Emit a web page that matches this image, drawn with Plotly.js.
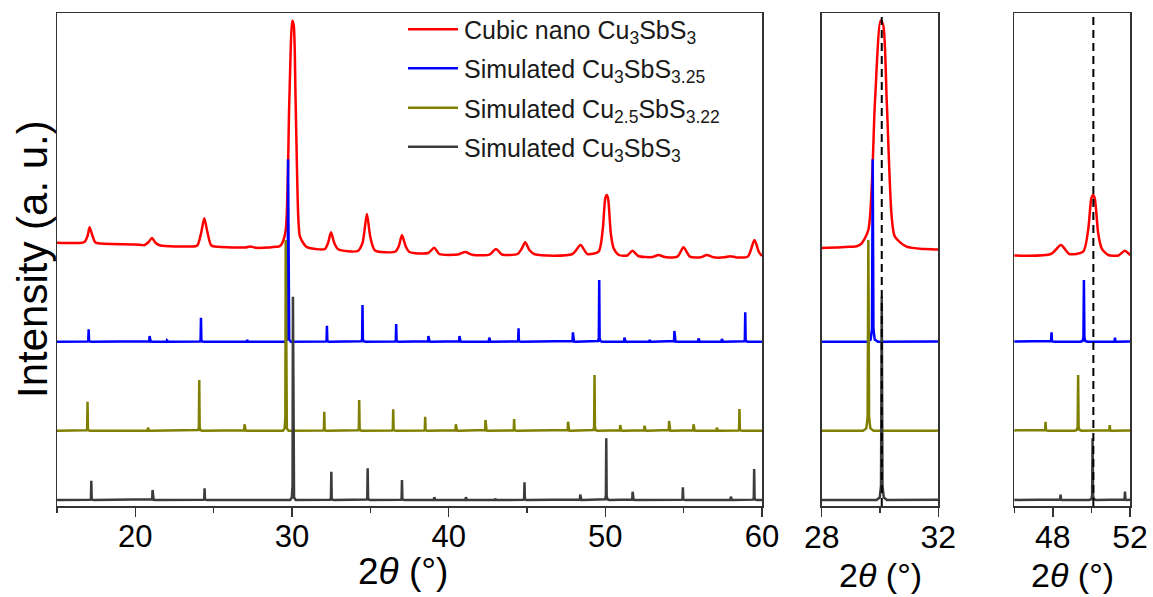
<!DOCTYPE html>
<html>
<head>
<meta charset="utf-8">
<script src="https://cdn.plot.ly/plotly-3.0.1.min.js"></script>
<style>
  html, body { margin: 0; padding: 0; background: #fff; }
  #chart { width: 1153px; height: 597px; }
</style>
</head>
<body>
<div id="chart"></div>
<script>
// XRD patterns, intensity in arbitrary units (stacked)

// Measured pattern: cubic nano Cu3SbS3 (2θ in degrees, intensity)
const redTheta = [15.0, 16.4, 16.75, 16.95, 17.08, 17.25, 17.45, 17.8, 20.0, 20.6, 20.85, 21.06, 21.3, 21.6,
  23.5, 23.95, 24.2, 24.4, 24.6, 24.85, 25.3, 27.0, 27.34, 27.7, 28.5, 29.0, 29.2, 29.37, 29.6, 29.83,
  30.02, 30.11, 30.23, 30.40, 30.51, 30.91, 31.5, 32.1, 32.3, 32.49, 32.7, 32.95, 34.2, 34.5, 34.78,
  35.0, 35.3, 36.6, 36.82, 37.02, 37.25, 37.5, 38.7, 39.08, 39.4, 40.6, 41.06, 41.5, 42.6, 43.02, 43.4,
  44.4, 44.65, 44.89, 45.15, 45.5, 47.9, 48.42, 48.85, 49.57, 49.83, 50.0, 50.09, 50.18, 50.35, 50.53,
  50.87, 51.4, 51.73, 52.1, 53.0, 53.39, 53.8, 54.6, 54.99, 55.4, 56.1, 56.48, 56.9, 57.6, 57.97, 58.4,
  59.1, 59.52, 59.8, 60.0];
const redIntensity = [263.3, 263, 264, 270, 278.7, 271, 263.5, 262.5, 261.5, 261, 264, 268, 263, 260.5,
  259.5, 260.5, 273, 287.7, 274, 260.5, 259.2, 258.5, 259.5, 258.2, 258.5, 259.3, 259.7, 262.7, 276, 406,
  485.3, 481, 406, 289.3, 269.3, 259.3, 257, 257, 263, 273.7, 263, 256.7, 255, 263, 292,
  269, 255.5, 254.5, 260, 271, 260, 254, 253, 258.3, 252, 251.5, 254, 251.3, 251.3, 257, 251.5,
  252, 257, 263.7, 256, 251.7, 252, 261, 252, 254.3, 276, 308, 311, 307, 272.7, 257.7,
  251, 250.5, 255.3, 250, 249, 251, 249, 249.3, 258.7, 249.3, 248.7, 251, 248.7, 248.7, 249.8, 248.5,
  249.5, 266, 254, 250];

// Simulated Cu3SbS3.25: peak positions and heights above its baseline
const bluePeaks = [17.02, 20.91, 22.02, 24.19, 27.13, 29.75, 32.23, 34.50, 36.65, 38.71, 40.69, 42.59,
  44.46, 47.93, 49.61, 51.22, 52.82, 54.41, 55.95, 57.44, 58.93];
const blueHeights = [12.4, 5.7, 1.2, 24, 1.7, 182.4, 16, 36.7, 17.7, 5.7, 5.7, 4,
  13.4, 9.4, 61.7, 4, 1.7, 10.7, 3.4, 2.7, 29.4];

// Simulated Cu2.5SbS3.22
const olivePeaks = [16.95, 20.81, 24.08, 26.97, 29.60, 32.06, 34.29, 36.46, 38.50, 40.46, 42.35, 44.18,
  47.62, 49.31, 50.95, 52.50, 54.07, 55.63, 57.12, 58.56];
const oliveHeights = [29, 3, 50.7, 6.4, 190.7, 19, 30.7, 21.4, 14, 6.4, 10.7, 11.7,
  9, 55.7, 5.7, 5, 9.7, 6.4, 3, 21.7];

// Simulated Cu3SbS3
const blackPeaks = [17.19, 21.10, 24.42, 30.06, 32.51, 34.83, 37.02, 39.08, 41.10, 42.97, 44.84,
  48.40, 50.06, 51.74, 54.95, 58.01, 59.50];
const blackHeights = [19.3, 10, 11.7, 203.3, 28.3, 31.7, 20, 2.7, 2.7, 1.3, 17.7,
  5.5, 61.7, 8.3, 12.7, 3.3, 31];

// Stacking offsets of the simulated patterns
const blueOffset = 164.3;
const oliveOffset = 75.3;
const blackOffset = 6;

// Reference peak positions marked in the zoomed panels
const refLines = [30.06, 50.1];

const seriesNames = [
  'Cubic nano Cu<sub>3</sub>SbS<sub>3</sub>',
  'Simulated Cu<sub>3</sub>SbS<sub>3.25</sub>',
  'Simulated Cu<sub>2.5</sub>SbS<sub>3.22</sub>',
  'Simulated Cu<sub>3</sub>SbS<sub>3</sub>'
];
const colors = ['#ff0000', '#0000ff', '#808000', '#3c3c3c'];

// Narrow reflection profile for a peak list sitting on a flat baseline
function stickPattern(pos, h, base) {
  const x = [15], y = [base];
  for (let i = 0; i < pos.length; i++) {
    x.push(pos[i] - 0.18, pos[i] - 0.07, pos[i] - 0.025, pos[i],
           pos[i] + 0.025, pos[i] + 0.07, pos[i] + 0.18);
    y.push(base, base + 0.012 * h[i], base + 0.07 * h[i], base + h[i],
           base + 0.07 * h[i], base + 0.012 * h[i], base);
  }
  x.push(60); y.push(base);
  return { x, y };
}

const patterns = [
  { x: redTheta, y: redIntensity, spline: true },
  Object.assign(stickPattern(bluePeaks, blueHeights, blueOffset), { spline: false }),
  Object.assign(stickPattern(olivePeaks, oliveHeights, oliveOffset), { spline: false }),
  Object.assign(stickPattern(blackPeaks, blackHeights, blackOffset), { spline: false })
];

const axesPairs = [['x', 'y'], ['x2', 'y2'], ['x3', 'y3']];
const traces = [];
axesPairs.forEach(([xa, ya]) => {
  patterns.forEach((p, i) => {
    traces.push({
      type: 'scatter', mode: 'lines',
      x: p.x, y: p.y, xaxis: xa, yaxis: ya,
      name: seriesNames[i], showlegend: false,
      line: { color: colors[i], width: 2.5, shape: p.spline ? 'spline' : 'linear', smoothing: 0.7 },
      hoverinfo: 'skip'
    });
  });
});

const FONT = 'Liberation Sans, Arial, sans-serif';
const lineCol = '#333333';

// plot area: x 57..1130 px, y 13..506 px
const L = 57, W = 1073, T = 13, H = 493;
const px = v => (v - L) / W;
const py = v => (T + H - v) / H;

function frameX(anchor, domain, range, dtick, minorDtick, tickSize, standoff) {
  return {
    anchor, domain, range,
    showline: true, mirror: true, linecolor: lineCol, linewidth: 1.5,
    ticks: 'outside', ticklen: 9, tickwidth: 1.5, tickcolor: lineCol,
    tick0: 0, dtick, ticklabelstandoff: standoff,
    minor: { dtick: minorDtick, tick0: 0, ticks: 'outside', ticklen: 5, tickwidth: 1.5, tickcolor: lineCol },
    tickfont: { family: FONT, size: tickSize, color: '#000' },
    showgrid: false, zeroline: false, fixedrange: true
  };
}
function frameY(anchor) {
  return {
    anchor, range: [0, 493], domain: [0, 1],
    showline: true, mirror: true, linecolor: lineCol, linewidth: 1.5,
    ticks: '', showticklabels: false, showgrid: false, zeroline: false, fixedrange: true
  };
}

const shapes = [['x2', refLines[0]], ['x3', refLines[1]]].map(([xr, v]) => ({
  type: 'line', xref: xr, yref: 'paper', x0: v, x1: v, y0: 0, y1: 1,
  line: { color: '#000', width: 2, dash: '8px,5px' }, layer: 'above'
}));

// legend keys
const legendRows = [29.3, 68.3, 107.7, 146.7];
legendRows.forEach((r, i) => {
  shapes.push({
    type: 'line', xref: 'paper', yref: 'paper',
    x0: px(408), x1: px(458), y0: py(r), y1: py(r),
    line: { color: colors[i], width: 2.5 }
  });
});

const annotations = legendRows.map((r, i) => ({
  text: seriesNames[i], xref: 'paper', yref: 'paper',
  x: px(462), y: py(r + 3), xanchor: 'left', yanchor: 'middle', showarrow: false,
  font: { family: FONT, size: 25, color: '#1a1a1a' }
}));

// axis titles
const thetaTitle = '2<i>θ</i> (°)';
annotations.push(
  { text: thetaTitle, xref: 'paper', yref: 'paper', x: px(403), y: py(571), xanchor: 'center', yanchor: 'middle',
    showarrow: false, font: { family: FONT, size: 37, color: '#000' } },
  { text: thetaTitle, xref: 'paper', yref: 'paper', x: px(880), y: py(575), xanchor: 'center', yanchor: 'middle',
    showarrow: false, font: { family: FONT, size: 34, color: '#000' } },
  { text: thetaTitle, xref: 'paper', yref: 'paper', x: px(1072), y: py(575), xanchor: 'center', yanchor: 'middle',
    showarrow: false, font: { family: FONT, size: 34, color: '#000' } },
  { text: 'Intensity (a. u.)', xref: 'paper', yref: 'paper', x: px(32), y: py(259), xanchor: 'center', yanchor: 'middle',
    textangle: -90, showarrow: false, font: { family: FONT, size: 42, color: '#000' } }
);

const layout = {
  width: 1153, height: 597,
  margin: { l: L, r: 1153 - L - W, t: T, b: 597 - T - H },
  paper_bgcolor: '#fff', plot_bgcolor: '#fff',
  font: { family: FONT, color: '#000' },
  xaxis: frameX('y', [0, px(762)], [15, 60], 10, 5, 31, -7),
  xaxis2: frameX('y2', [px(821.7), px(938.3)], [28, 32], 4, 2, 32, -7),
  xaxis3: frameX('y3', [px(1014.3), 1], [46, 52], 4, 2, 32, -7),
  yaxis: frameY('x'), yaxis2: frameY('x2'), yaxis3: frameY('x3'),
  shapes, annotations,
  showlegend: false
};

Plotly.newPlot('chart', traces, layout, { staticPlot: true, displayModeBar: false });
</script>
</body>
</html>
